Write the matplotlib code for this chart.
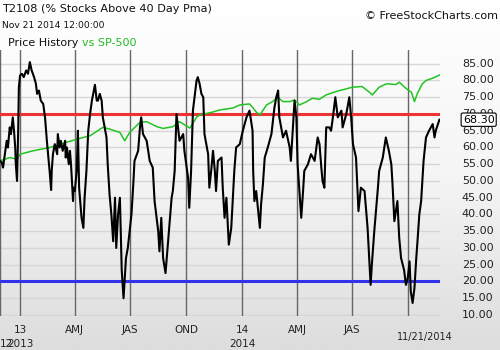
import numpy as np
import pandas as pd
import matplotlib
matplotlib.use("Agg")
import matplotlib.pyplot as plt
from matplotlib.colors import LinearSegmentedColormap

# T2108 daily readings (days since 2012-11-29, percent)
t2108_days = [0, 3, 5, 8, 11, 13, 16, 18, 21, 23, 25, 26, 28, 30, 31, 33, 36, 39, 43, 46,
              49, 52, 56, 59, 61, 64, 67, 71, 74, 77, 80, 82, 84, 85, 87, 90, 94, 95, 98, 100,
              103, 107, 108, 110, 113, 115, 117, 120, 121, 123, 126, 128, 130, 134, 137, 139, 142, 145, 148, 151,
              156, 159, 161, 164, 167, 169, 172, 175, 177, 180, 183, 186, 189, 191, 194, 197, 200, 203, 207, 210,
              216, 219, 221, 227, 230, 232, 235, 241, 246, 251, 254, 260, 262, 265, 268, 272, 276, 282, 284, 287,
              290, 295, 301, 303, 309, 311, 314, 317, 323, 325, 328, 331, 334, 336, 342, 344, 347, 350, 353, 355,
              358, 364, 366, 369, 372, 376, 380, 383, 385, 388, 394, 399, 405, 410, 415, 416, 418, 421, 427, 429,
              432, 435, 440, 446, 451, 454, 457, 459, 465, 470, 476, 478, 484, 487, 489, 492, 495, 498, 500, 506,
              511, 517, 522, 525, 528, 530, 533, 536, 541, 544, 547, 551, 555, 561, 563, 569, 574, 577, 580, 585,
              589, 593, 599, 604, 607, 609, 611, 615, 621, 623, 629, 634, 639, 643, 645, 648, 653, 656, 659, 664,
              667, 670, 673, 675, 678, 681, 684, 686, 689, 692, 694, 696, 700, 705, 711, 714, 716, 722]
t2108_vals = [56, 55.5, 54, 58, 62, 60, 66, 64, 69, 65, 60, 55, 50, 66, 78, 81.5, 82, 81, 83, 82,
              85.5, 83, 81, 79, 76, 77, 74, 73, 69, 62, 56, 52, 47.3, 53, 58, 61, 58, 64, 60, 62,
              59, 62, 57, 60, 55, 59, 54, 44, 48, 47, 53, 65, 48, 39, 36, 45, 53, 65, 70, 74,
              78.7, 74, 74, 76, 74, 69, 66, 63, 55, 46, 40, 32, 45, 30, 40, 45, 23.4, 15, 27, 30,
              40, 49, 56, 59, 66, 69, 64, 62, 56, 54, 44, 35, 29, 39, 27, 22.5, 31.5, 45, 47, 53,
              70, 62, 64, 59, 51, 42, 53, 71, 80, 81, 79, 76, 75, 64, 58, 48, 53, 59, 53, 47,
              56, 57, 48, 39, 45, 31, 36, 46, 53, 60, 61, 65, 69, 71, 65, 53, 44, 47, 36, 43,
              49, 57, 60, 64, 72, 75, 77, 69, 63, 65, 60, 56, 74, 69, 55, 47, 39, 47, 53, 55,
              58, 56, 63, 61, 54, 50, 48, 66, 66, 65, 69, 75, 69, 71, 66, 70, 75, 69, 61, 57,
              41, 48, 47, 36, 25.5, 19, 25, 35, 48, 53, 57, 63, 59, 55, 49, 38, 44, 33, 27, 23.4,
              19, 21, 26, 17, 13.6, 18, 27, 32, 40, 44, 50, 56, 63, 65, 67, 63, 65, 68.3]

# S&P 500 overlay, rescaled onto the T2108 axis
sp_days = [0, 16, 28, 33, 54, 82, 110, 137, 148, 169, 180, 197, 205, 213, 230, 241, 258, 268, 284, 295,
           312, 323, 328, 350, 361, 383, 394, 410, 415, 421, 427, 438, 448, 456, 465, 476, 484, 492, 504, 513,
           525, 536, 547, 558, 569, 579, 595, 607, 612, 623, 635, 651, 656, 668, 676, 681, 686, 694, 700, 711, 722]
sp_vals = [56, 57, 56.5, 58, 59, 60, 61.6, 63, 63.5, 66, 65.5, 64.5, 62, 64.5, 67.5, 67.7, 66.2, 65.7, 66.2, 67.7,
           65.8, 69, 69.7, 70.6, 71.2, 71.8, 72.7, 73, 72, 70.6, 69.7, 72.7, 73.7, 75, 73.7, 73.7, 74.2, 72.7, 73.7, 74.7,
           74.4, 75.7, 76.4, 77, 77.5, 78, 78.2, 76.5, 75.7, 78, 79, 78.8, 79.5, 77.5, 76.5, 73.7, 76.2, 79, 80, 80.7, 81.6]

start = pd.Timestamp("2012-11-29")
quarter_dates = ["2013-01-01", "2013-04-01", "2013-07-01", "2013-10-01",
                 "2014-01-01", "2014-04-01", "2014-07-01", "2014-10-01"]
quarter_labels = ["13", "AMJ", "JAS", "OND", "14", "AMJ", "JAS", ""]
year_labels = [("2013-01-01", "2013"), ("2014-01-01", "2014")]
y_ticks = [10, 15, 20, 25, 30, 35, 40, 45, 50, 55, 60, 65, 70, 75, 80, 85]
last_value = 68.30

x_t = start + pd.to_timedelta(t2108_days, unit="D")
x_sp = start + pd.to_timedelta(sp_days, unit="D")

fig = plt.figure(figsize=(5, 3.5), dpi=100)

# gradient background
bg = fig.add_axes([0, 0, 1, 1], zorder=-5)
grad = np.linspace(0, 1, 256).reshape(-1, 1)
cmap = LinearSegmentedColormap.from_list("bg", ["#ffffff", "#f5f5f5", "#dddddd"])
bg.imshow(grad, aspect="auto", cmap=cmap, extent=[0, 1, 0, 1], origin="upper")
bg.axis("off")

ax = fig.add_axes([0, 1 - 316 / 350, 440 / 500, (316 - 50) / 350])
ax.set_facecolor("none")
for s in ax.spines.values():
    s.set_visible(False)
ax.set_xticks([])
ax.set_yticks([])

x0 = start
x1 = start + pd.Timedelta(days=723)
ax.set_xlim(x0, x1)
ax.set_ylim(9.7, 89.1)

for v in y_ticks:
    ax.axhline(v, color="#d6d6d6", lw=1, zorder=1)
ax.axvline(x0 + pd.Timedelta(days=0.5), color="#666666", lw=1, zorder=2)
for d in quarter_dates:
    ax.axvline(pd.Timestamp(d), color="#666666", lw=1, zorder=2)

ax.axhline(70, color="#ee3333", lw=2.2, zorder=3)
ax.axhline(20, color="#3333ee", lw=2.2, zorder=3)

ax.plot(x_sp, sp_vals, color="#22c422", lw=1.1, zorder=4)
ax.plot(x_t, t2108_vals, color="black", lw=1.5, zorder=5)

# right-side value labels
for v in y_ticks:
    ax.text(1.122, v, "%.2f" % v, transform=ax.get_yaxis_transform(), ha="right", va="center",
            fontsize=8, color="#222222")
ax.text(1.124, last_value, "%.2f" % last_value, transform=ax.get_yaxis_transform(), ha="right",
        va="center", fontsize=8, color="black", zorder=10,
        bbox=dict(boxstyle="round,pad=0.15", fc="white", ec="black", lw=0.8))

# bottom time labels
trans = ax.get_xaxis_transform()
for d, lab in zip(quarter_dates, quarter_labels):
    ax.text(pd.Timestamp(d), -0.052, lab, transform=trans, ha="center", va="center",
            fontsize=7.5, color="#222222", clip_on=False)
for d, lab in year_labels:
    ax.text(pd.Timestamp(d), -0.105, lab, transform=trans, ha="center", va="center",
            fontsize=7.5, color="#222222", clip_on=False)
ax.text(x0, -0.105, "12", transform=trans, ha="left", va="center",
        fontsize=7.5, color="#222222", clip_on=False)
ax.text(start + pd.Timedelta(days=698), -0.078, "11/21/2014", transform=trans, ha="center",
        va="center", fontsize=7, color="#222222", clip_on=False)

# header texts
fig.text(0.004, 1 - 9 / 350, "T2108 (% Stocks Above 40 Day Pma)", fontsize=8.1,
         ha="left", va="center", color="#111111")
fig.text(0.004, 1 - 25 / 350, "Nov 21 2014 12:00:00", fontsize=6.6,
         ha="left", va="center", color="#111111")
fig.text(0.016, 1 - 43 / 350, "Price History", fontsize=8,
         ha="left", va="center", color="#111111")
fig.text(0.163, 1 - 43 / 350, "vs SP-500", fontsize=8,
         ha="left", va="center", color="#22bb22")
fig.text(0.996, 1 - 16 / 350, "\u00a9 FreeStockCharts.com", fontsize=8,
         ha="right", va="center", color="#111111")

fig.savefig("out.png", dpi=100)
